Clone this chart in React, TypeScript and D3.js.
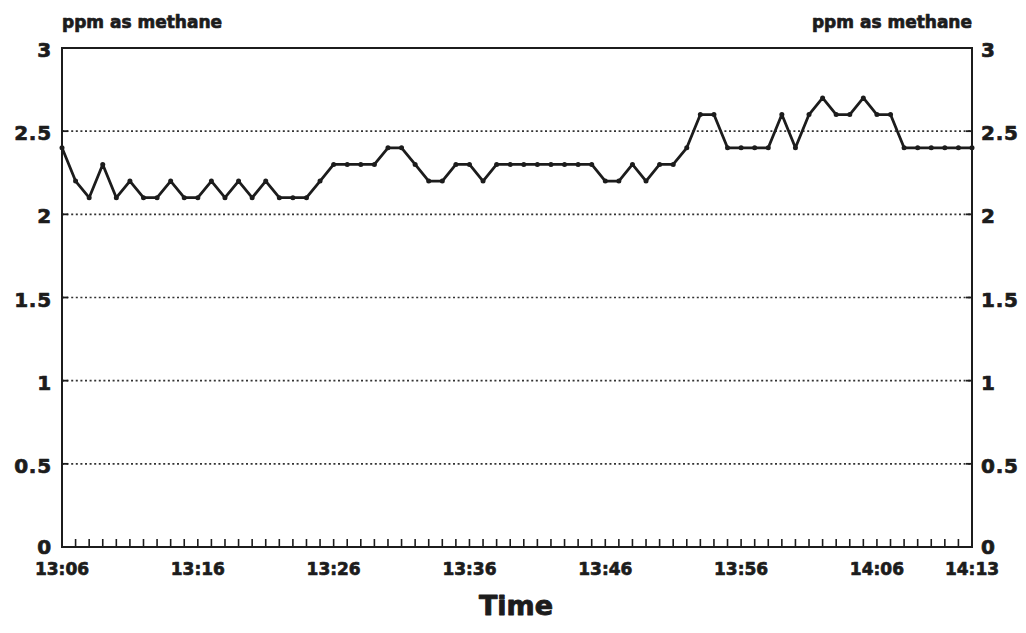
import React from "react";
import * as d3 from "d3";

// Methane concentration (ppm as methane), one reading per minute from 13:06 to 14:13
const readings: number[] = [
  2.4, 2.2, 2.1, 2.3, 2.1, 2.2, 2.1, 2.1, 2.2, 2.1, 2.1, 2.2, 2.1, 2.2, 2.1, 2.2, 2.1,
  2.1, 2.1, 2.2, 2.3, 2.3, 2.3, 2.3, 2.4, 2.4, 2.3, 2.2, 2.2, 2.3, 2.3, 2.2, 2.3, 2.3, 2.3,
  2.3, 2.3, 2.3, 2.3, 2.3, 2.2, 2.2, 2.3, 2.2, 2.3, 2.3, 2.4, 2.6, 2.6, 2.4, 2.4, 2.4, 2.4,
  2.6, 2.4, 2.6, 2.7, 2.6, 2.6, 2.7, 2.6, 2.6, 2.4, 2.4, 2.4, 2.4, 2.4, 2.4,
];

// Minutes after 13:06 that carry a time label
const labelMinutes: number[] = [0, 10, 20, 30, 40, 50, 60, 67];
const labelTexts: string[] = ["13:06", "13:16", "13:26", "13:36", "13:46", "13:56", "14:06", "14:13"];

const yTicks: number[] = [0, 0.5, 1, 1.5, 2, 2.5, 3];
const yTickTexts: string[] = ["0", "0.5", "1", "1.5", "2", "2.5", "3"];

const W = 1026;
const H = 633;
const left = 62;
const right = 972;
const top = 48;
const bottom = 547;
const ink = "#1c1c1c";
const font = "'DejaVu Sans', Verdana, sans-serif";

// heavy lettering: bold face plus a thin outline in the same ink
const heavy = {
  fontFamily: font,
  fontWeight: "bold" as const,
  fill: ink,
  stroke: ink,
  strokeWidth: 0.7,
  strokeLinejoin: "round" as const,
};

export default function App() {
  const x = d3.scaleLinear().domain([0, readings.length - 1]).range([left, right]);
  const y = d3.scaleLinear().domain([0, 3]).range([bottom, top]);

  const line = d3
    .line<number>()
    .x((_, i) => x(i))
    .y((v) => y(v));

  const minuteTicks = d3.range(1, readings.length - 1);

  return (
    <svg
      width={W}
      height={H}
      viewBox={`0 0 ${W} ${H}`}
      style={{ position: "absolute", left: 0, top: 0, background: "#fff" }}
    >
      <rect width={W} height={H} fill="#fff" />

      {/* dotted horizontal grid */}
      {yTicks
        .filter((t) => t > 0 && t < 3)
        .map((t) => (
          <g key={`g${t}`}>
            <line
              x1={left}
              x2={right}
              y1={y(t)}
              y2={y(t)}
              stroke="#333"
              strokeWidth={1.6}
              strokeDasharray="2 2.6"
            />
            <line x1={left} x2={left + 6} y1={y(t)} y2={y(t)} stroke={ink} strokeWidth={1.8} />
            <line x1={right - 6} x2={right} y1={y(t)} y2={y(t)} stroke={ink} strokeWidth={1.8} />
          </g>
        ))}

      {/* minute ticks on the time axis */}
      {minuteTicks.map((m) => (
        <line
          key={`m${m}`}
          x1={x(m)}
          x2={x(m)}
          y1={bottom}
          y2={bottom - 8}
          stroke={ink}
          strokeWidth={1.6}
        />
      ))}

      {/* frame */}
      <rect
        x={left}
        y={top}
        width={right - left}
        height={bottom - top}
        fill="none"
        stroke={ink}
        strokeWidth={2}
      />

      {/* data line with markers */}
      <path d={line(readings) ?? ""} fill="none" stroke={ink} strokeWidth={2.8} strokeLinejoin="round" />
      {readings.map((v, i) => (
        <circle key={`p${i}`} cx={x(i)} cy={y(v)} r={2.5} fill={ink} />
      ))}

      {/* y labels, left and right */}
      {yTicks.map((t, i) => (
        <g key={`yl${t}`} {...heavy} fontSize={20}>
          <text x={52} y={y(t) + (t === 0 ? 7 : 9)} textAnchor="end" letterSpacing={0.8}>
            {yTickTexts[i]}
          </text>
          <text x={981} y={y(t) + (t === 0 ? 7 : 9)} textAnchor="start" letterSpacing={0.8}>
            {yTickTexts[i]}
          </text>
        </g>
      ))}

      {/* axis titles */}
      <text x={left} y={28} {...heavy} fontSize={17}>
        ppm as methane
      </text>
      <text x={right} y={28} textAnchor="end" {...heavy} fontSize={17}>
        ppm as methane
      </text>

      {/* time labels */}
      {labelMinutes.map((m, i) => (
        <text key={`xl${m}`} x={x(m)} y={575} textAnchor="middle" {...heavy} fontSize={17}>
          {labelTexts[i]}
        </text>
      ))}

      <text x={516} y={615} textAnchor="middle" {...heavy} strokeWidth={0.9} fontSize={27}>
        Time
      </text>
    </svg>
  );
}
